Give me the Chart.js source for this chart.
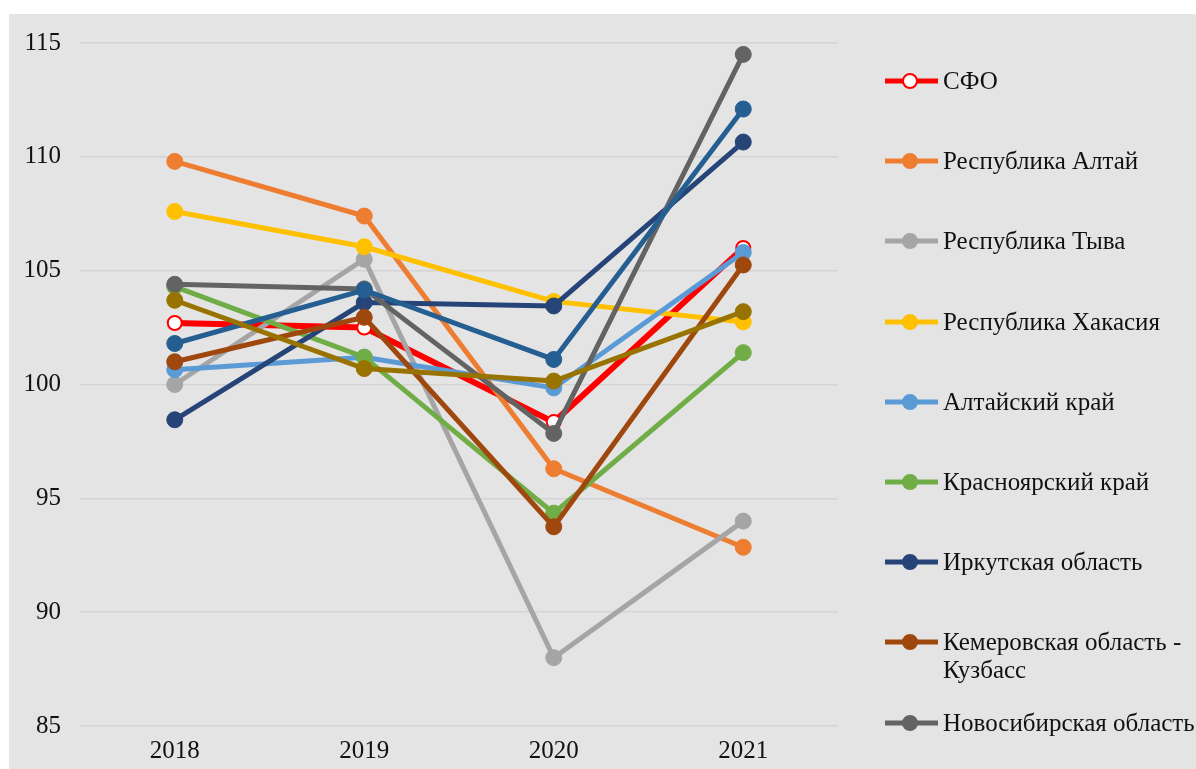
<!DOCTYPE html>
<html>
<head>
<meta charset="utf-8">
<script src="https://cdn.jsdelivr.net/npm/chart.js@4/dist/chart.umd.min.js"></script>
<style>
  body { margin: 0; width: 1196px; height: 769px; overflow: hidden; position: relative; background: #fff;
         font-family: "Liberation Serif", "Times New Roman", serif; }
  #bg { position: absolute; left: 9px; top: 14px; right: 0; bottom: 0; background: #e4e4e4; }
  #chart { position: absolute; left: 0; top: 0; }
  #legend { position: absolute; left: 884px; top: 0; width: 312px; height: 769px; overflow: hidden; }
  .item { position: absolute; left: 0; }
  .item canvas { position: absolute; left: 0; }
  .item span { position: absolute; left: 59px; top: 0; width: 280px; font-size: 25px; line-height: 28px; color: #111; }
</style>
</head>
<body>
<div id="bg"></div>
<canvas id="chart" width="1196" height="769"></canvas>
<div id="legend"></div>
<script>
// values
const years = ['2018', '2019', '2020', '2021'];
const seriesNames = [
  'СФО', 'Республика Алтай', 'Республика Тыва', 'Республика Хакасия', 'Алтайский край',
  'Красноярский край', 'Иркутская область', 'Кемеровская область - Кузбасс',
  'Новосибирская область', 'Омская область', 'Томская область'
];
const sfo         = [102.7, 102.5, 98.35, 106.0];
const altaiRep    = [109.8, 107.4, 96.3, 92.85];
const tyva        = [100.0, 105.5, 88.0, 94.0];
const khakasia    = [107.6, 106.05, 103.65, 102.75];
const altaiKrai   = [100.65, 101.2, 99.85, 105.8];
const krasnoyarsk = [104.3, 101.2, 94.35, 101.4];
const irkutsk     = [98.45, 103.6, 103.45, 110.65];
const kemerovo    = [101.0, 102.95, 93.75, 105.25];
const novosibirsk = [104.4, 104.2, 97.85, 114.5];
const omsk        = [101.8, 104.15, 101.1, 112.1];
const tomsk       = [103.7, 100.7, 100.15, 103.2];
const yTicks = [85, 90, 95, 100, 105, 110, 115];

const seriesValues = [sfo, altaiRep, tyva, khakasia, altaiKrai, krasnoyarsk, irkutsk, kemerovo, novosibirsk, omsk, tomsk];
const colors = ['#ff0000', '#ed7d31', '#a5a5a5', '#ffc000', '#5b9bd5', '#70ad47',
                '#264478', '#9e480e', '#636363', '#255e91', '#997300'];

const FONT = { family: '"Liberation Serif", "Times New Roman", serif', size: 25 };

const datasets = seriesValues.map((vals, i) => {
  const hollow = i === 0;
  return {
    label: seriesNames[i],
    data: vals,
    borderColor: colors[i],
    borderWidth: hollow ? 6 : 5,
    backgroundColor: hollow ? '#ffffff' : colors[i],
    pointBackgroundColor: hollow ? '#ffffff' : colors[i],
    pointBorderColor: colors[i],
    pointBorderWidth: hollow ? 2 : 1,
    pointRadius: hollow ? 7 : 8,
    tension: 0,
    order: seriesValues.length - i   // later series on top, like the original
  };
});

new Chart(document.getElementById('chart'), {
  type: 'line',
  data: { labels: years, datasets: datasets },
  options: {
    responsive: false,
    animation: false,
    layout: { padding: { left: 0, right: 358, top: 43, bottom: 0 } },
    plugins: { legend: { display: false }, tooltip: { enabled: false } },
    scales: {
      x: {
        offset: true,
        grid: { display: false },
        border: { display: false },
        ticks: { color: '#111', font: FONT, padding: 2 },
        afterFit: (s) => { s.height = 43; }
      },
      y: {
        min: 85,
        max: 115,
        afterBuildTicks: (s) => { s.ticks = yTicks.map(v => ({ value: v })); },
        grid: { color: '#d4d4d4', lineWidth: 1.5, drawTicks: false },
        border: { display: false },
        ticks: { color: '#111', font: FONT, padding: 19 },
        afterFit: (s) => { s.width = 80; }
      }
    }
  }
});

// legend like the original: line with a marker, clipped by the page edge
const legend = document.getElementById('legend');
datasets.forEach((ds, i) => {
  const center = 81 + i * 80.2;
  const item = document.createElement('div');
  item.className = 'item';
  item.style.top = (center - 14) + 'px';

  const sw = document.createElement('canvas');
  sw.width = 56; sw.height = 18;
  sw.style.top = '5px';
  const c = sw.getContext('2d');
  c.strokeStyle = ds.borderColor;
  c.lineWidth = 5;
  c.beginPath(); c.moveTo(1, 9); c.lineTo(54, 9); c.stroke();
  c.beginPath(); c.arc(26, 9, 7, 0, Math.PI * 2);
  c.fillStyle = ds.pointBackgroundColor; c.fill();
  c.lineWidth = 2; c.strokeStyle = ds.pointBorderColor; c.stroke();

  const txt = document.createElement('span');
  txt.textContent = ds.label;
  item.appendChild(sw);
  item.appendChild(txt);
  legend.appendChild(item);
});
</script>
</body>
</html>
